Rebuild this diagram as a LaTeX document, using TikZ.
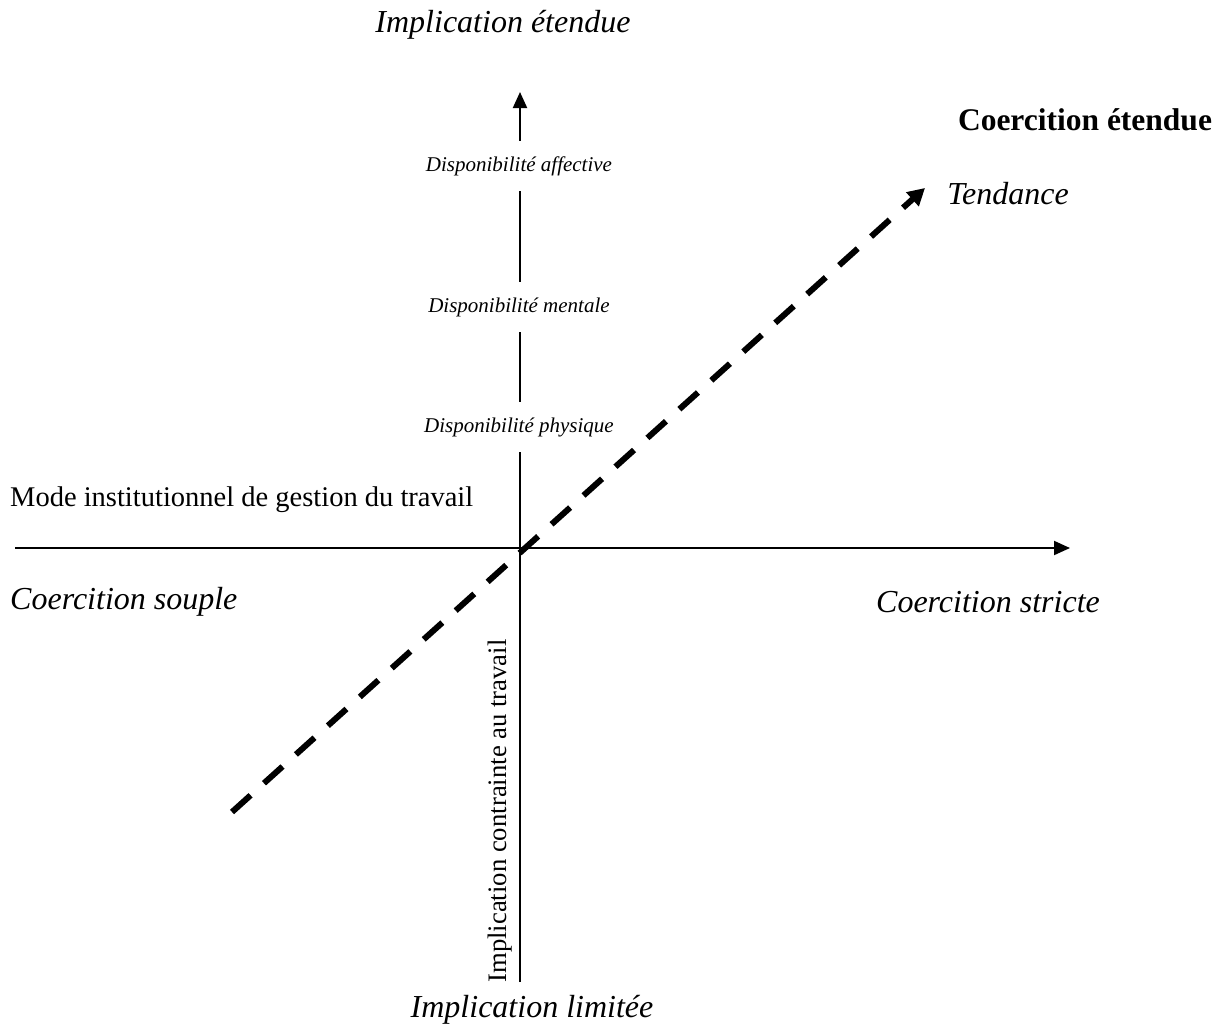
\documentclass[tikz,border=0pt]{standalone}
\usepackage{fontspec}
\setmainfont{Liberation Serif}
\usetikzlibrary{arrows.meta}
\begin{document}
\begin{tikzpicture}[x=1pt,y=-1pt,
  big/.style={font=\fontsize{32}{36}\selectfont\itshape, inner sep=0pt},
  norm/.style={font=\fontsize{28.5}{32}\selectfont, inner sep=0pt},
  dispo/.style={font=\fontsize{21}{24}\selectfont\itshape, inner sep=0pt, minimum height=50pt},
  axis/.style={line width=2pt},
  thinaxis/.style={line width=1.4pt},
  trend/.style={line width=6pt, dash pattern=on 25pt off 18pt, -{Triangle[length=17pt,width=18pt]}},
  tip/.style={-{Triangle[length=16pt,width=14pt]}}
]
\useasboundingbox (0,0) rectangle (1231,1026);
% coordinates
\coordinate (o) at (520,548);
\coordinate (bot) at (520,982);
\coordinate (top) at (520,92);
\coordinate (left) at (15,548);
\coordinate (mid) at (472,548);
\coordinate (right) at (1070,548);
\coordinate (ts) at (232,812);
\coordinate (te) at (925,188);
% labels
\node[big] (ie) at (503,25) {Implication étendue};
\node[inner sep=0pt, font=\fontsize{31.5}{36}\selectfont\bfseries] (ce) at (1085,120) {Coercition étendue};
\node[big] (tend) at (1008,194) {Tendance};
\node[dispo] (daff) at (519,166) {Disponibilité affective};
\node[dispo] (dmen) at (519,307) {Disponibilité mentale};
\node[dispo] (dphy) at (519,427) {Disponibilité physique};
\node[norm, anchor=west] (mode) at (10,500) {Mode institutionnel de gestion du travail};
\node[big, anchor=west] (cso) at (10,602) {Coercition souple};
\node[big] (cst) at (988,602) {Coercition stricte};
\node[big] (il) at (532,1010) {Implication limitée};
\node[inner sep=0pt, font=\fontsize{26.7}{30}\selectfont, rotate=90] (ict) at (500,811) {Implication contrainte au travail};
% axes
\draw[thinaxis] (left) -- (mid);
\draw[axis, tip] (mid) -- (right);
\draw[axis] (bot) -- (bot |- dphy.south);
\draw[axis] (o |- dphy.north) -- (o |- dmen.south);
\draw[axis] (o |- dmen.north) -- (o |- daff.south);
\draw[axis, tip] (o |- daff.north) -- (top);
% trend
\draw[trend] (ts) -- (te);
\end{tikzpicture}
\end{document}
